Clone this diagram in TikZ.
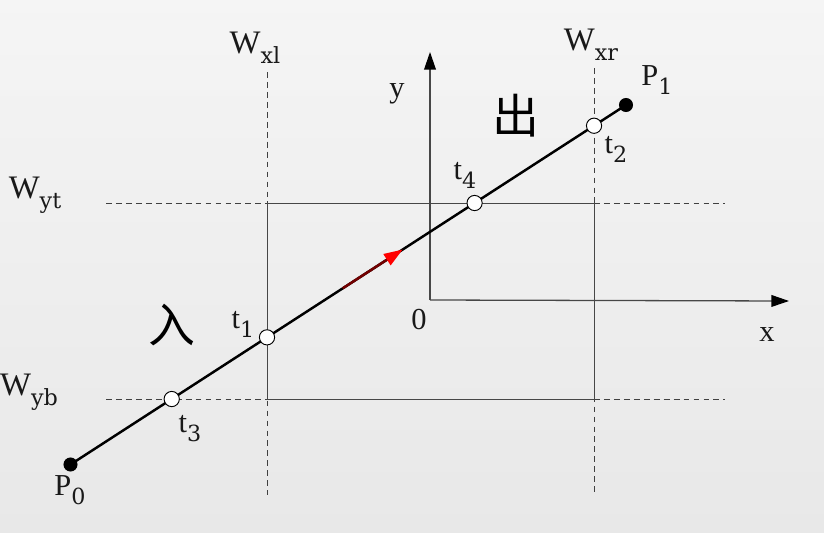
\documentclass[tikz,border=0pt]{standalone}
\usepackage{fontspec}
\setmainfont{Liberation Serif}
\newfontfamily\subfont{DejaVu Serif}
\newfontfamily\cjk{Noto Sans CJK SC}
\usetikzlibrary{arrows.meta,calc}
\newcommand{\lbl}[2]{#1\raisebox{-0.3em}{\fontsize{19}{19}\selectfont\subfont #2}}
\begin{document}
\begin{tikzpicture}[x=0.03cm,y=-0.03cm,
  win/.style={draw=black!72, line width=0.8pt},
  dashln/.style={draw=black!75, line width=0.8pt, dash pattern=on 5pt off 3.5pt},
  axis/.style={draw=black!72, line width=1.1pt, -{Triangle[length=15pt,width=10pt,color=black]}},
  seg/.style={line width=2.1pt, draw=black},
  endpt/.style={circle, fill=black, inner sep=0pt, minimum size=12pt},
  hitpt/.style={circle, draw=black, fill=white, line width=0.8pt, inner sep=0pt, minimum size=13pt},
  txt/.style={font=\fontsize{26}{28}\selectfont, inner sep=0pt, text=black!90},
  wtxt/.style={font=\fontsize{28}{30}\selectfont, inner sep=0pt, text=black!90},
  bigcjk/.style={font=\fontsize{40}{42}\selectfont\cjk, inner sep=0pt}
]
\fill[top color=black!4, bottom color=black!9] (0,0) rectangle (824,532);
\useasboundingbox (0,0) rectangle (824,532);

% window lines
\coordinate (WLt) at (267,72);  \coordinate (WLb) at (267,495);
\coordinate (WRt) at (594,68);  \coordinate (WRb) at (594,495);
\coordinate (WTl) at (106,203); \coordinate (WTr) at (725,203);
\coordinate (WBl) at (106,399); \coordinate (WBr) at (725,399);
\coordinate (R1) at (267,203); \coordinate (R2) at (594,203);
\coordinate (R3) at (594,399); \coordinate (R4) at (267,399);

\draw[dashln] (WLt) -- (WLb);
\draw[dashln] (WRt) -- (WRb);
\draw[dashln] (WTl) -- (WTr);
\draw[dashln] (WBl) -- (WBr);
\draw[win] (R1) -- (R2) -- (R3) -- (R4) -- cycle;

% axes
\coordinate (O) at (430,300);
\coordinate (Ytip) at (430,52);
\coordinate (Xtip) at (789,301);
\draw[axis] (O) -- (Ytip);
\draw[axis] (O) -- (Xtip);

% segment
\coordinate (P0) at (70.5,464.5);
\coordinate (P1) at (626,105);
\draw[seg] (P0) -- (P1);
\coordinate (A1) at ($(P0)!0.49!(P1)$);
\coordinate (A2) at ($(P0)!0.598!(P1)$);
\draw[line width=2.1pt, draw=red!45!black, -{Triangle[length=16pt,width=11pt,color=red]}] (A1) -- (A2);

\node[endpt] (p0) at (P0) {};
\node[endpt] (p1) at (P1) {};
\node[hitpt] (t1) at (intersection of P0--P1 and WLt--WLb) {};
\node[hitpt] (t2) at (intersection of P0--P1 and WRt--WRb) {};
\node[hitpt] (t3) at (intersection of P0--P1 and WBl--WBr) {};
\node[hitpt] (t4) at (intersection of P0--P1 and WTl--WTr) {};

% labels
\node[wtxt] (lWxl) at (255,48) {\lbl{W}{xl}};
\node[wtxt] (lWxr) at (591,45) {\lbl{W}{xr}};
\node[wtxt] (lWyt) at (35,195) {\lbl{W}{yt}};
\node[wtxt] (lWyb) at (29,392) {\lbl{W}{yb}};
\node[txt] (lP0) at (70,490) {\lbl{P}{0}};
\node[txt] (lP1) at (657,80) {\lbl{P}{1}};
\node[txt] (lt1) at (243,324) {\lbl{t}{1}};
\node[txt] (lt2) at (616,149) {\lbl{t}{2}};
\node[txt] (lt3) at (190,429) {\lbl{t}{3}};
\node[txt] (lt4) at (465,175) {\lbl{t}{4}};
\node[txt] (ly) at (397,94) {y};
\node[txt] (lx) at (767,335) {x};
\node[txt] (l0) at (419,320) {0};
\node[bigcjk] (in) at (172,325) {入};
\node[bigcjk] (out) at (516,116) {出};
\end{tikzpicture}
\end{document}
